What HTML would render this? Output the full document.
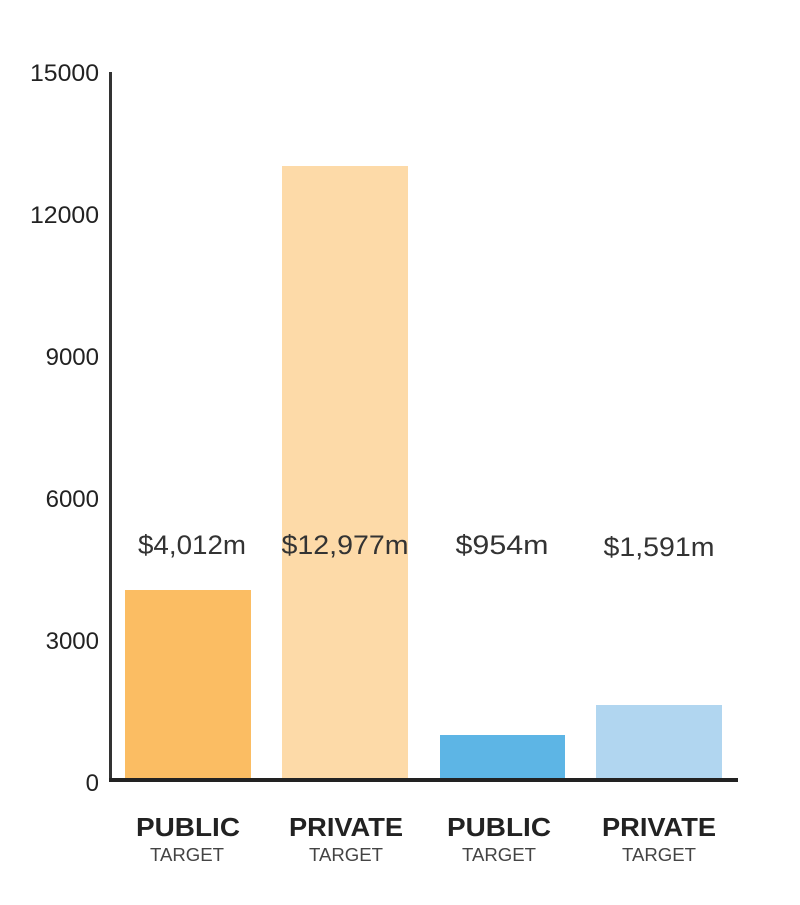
<!DOCTYPE html>
<html><head><style>
body{margin:0;background:#fff;width:800px;height:900px;overflow:hidden;font-family:"Liberation Sans",Arial,sans-serif;}
</style></head><body>
<svg width="800" height="900" xmlns="http://www.w3.org/2000/svg">
<g font-family="Liberation Sans, Arial, sans-serif" fill="#222" font-size="24" text-anchor="end" textLength="69">
<text x="99" y="81" textLength="69" lengthAdjust="spacingAndGlyphs">15000</text>
<text x="99" y="223" textLength="69" lengthAdjust="spacingAndGlyphs">12000</text>
<text x="99" y="365">9000</text>
<text x="99" y="507">6000</text>
<text x="99" y="649">3000</text>
<text x="99" y="791">0</text>
</g>
<rect x="125" y="590" width="126" height="190" fill="#fbbd63"/>
<rect x="282" y="166" width="126" height="614" fill="#fddaa8"/>
<rect x="440" y="735" width="125" height="45" fill="#5db5e5"/>
<rect x="596" y="705" width="126" height="75" fill="#b1d6f0"/>
<rect x="109" y="72" width="3" height="709" fill="#333"/>
<rect x="109" y="778" width="629" height="4" fill="#222"/>
<g font-family="Liberation Sans, Arial, sans-serif" fill="#333" font-size="27" text-anchor="middle">
<text x="192" y="554" textLength="108" lengthAdjust="spacingAndGlyphs">$4,012m</text>
<text x="345" y="554" textLength="127" lengthAdjust="spacingAndGlyphs">$12,977m</text>
<text x="502" y="554" textLength="93" lengthAdjust="spacingAndGlyphs">$954m</text>
<text x="659" y="556" textLength="111" lengthAdjust="spacingAndGlyphs">$1,591m</text>
</g>
<g font-family="Liberation Sans, Arial, sans-serif" text-anchor="middle">
<text x="188" y="836" font-size="26" font-weight="bold" fill="#222" textLength="104" lengthAdjust="spacingAndGlyphs">PUBLIC</text>
<text x="187" y="861" font-size="18" fill="#444" textLength="74" lengthAdjust="spacingAndGlyphs">TARGET</text>
<text x="346" y="836" font-size="26" font-weight="bold" fill="#222" textLength="114" lengthAdjust="spacingAndGlyphs">PRIVATE</text>
<text x="346" y="861" font-size="18" fill="#444" textLength="74" lengthAdjust="spacingAndGlyphs">TARGET</text>
<text x="499" y="836" font-size="26" font-weight="bold" fill="#222" textLength="104" lengthAdjust="spacingAndGlyphs">PUBLIC</text>
<text x="499" y="861" font-size="18" fill="#444" textLength="74" lengthAdjust="spacingAndGlyphs">TARGET</text>
<text x="659" y="836" font-size="26" font-weight="bold" fill="#222" textLength="114" lengthAdjust="spacingAndGlyphs">PRIVATE</text>
<text x="659" y="861" font-size="18" fill="#444" textLength="74" lengthAdjust="spacingAndGlyphs">TARGET</text>
</g>
</svg>
</body></html>
